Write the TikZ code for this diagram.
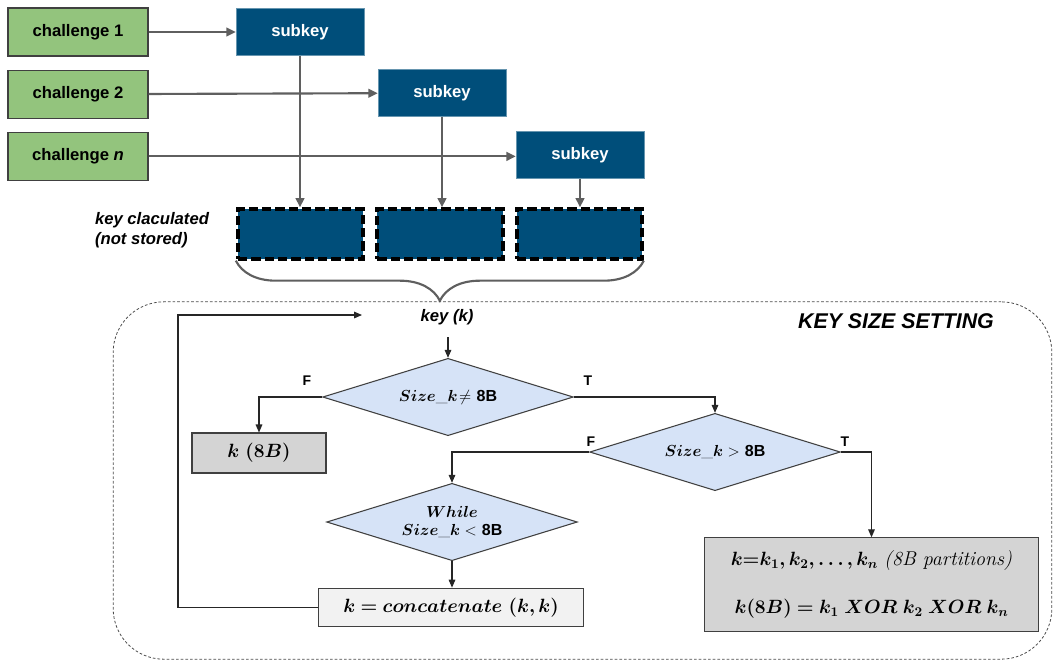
\documentclass[tikz,border=0pt]{standalone}
\usepackage{amsmath}
\usepackage{bm}
\usepackage{fontspec}
\setsansfont{Liberation Sans}
\usetikzlibrary{arrows.meta}
\usetikzlibrary{positioning}
\usetikzlibrary{shapes}
\usetikzlibrary{decorations.pathreplacing}
\definecolor{chalgreen}{RGB}{147,196,125}
\definecolor{subblue}{RGB}{0,78,122}
\definecolor{linegray}{RGB}{95,95,95}
\definecolor{decblue}{RGB}{214,227,247}
\definecolor{boxgray}{RGB}{212,212,212}
\definecolor{boxlight}{RGB}{242,242,242}
\newcommand{\sfbold}{\sffamily\bfseries}
\newcommand{\eightB}{\textsf{\textbf{8B}}}

\begin{document}
\begin{tikzpicture}[x=0.75pt, y=-0.75pt, node distance = 9.75pt and 7.5pt,
  challenge/.style={
    % The shape:
    rectangle,
    minimum width=105pt, minimum height=36pt,
    % The border:
    line width=0.9pt, draw=black!75,
    % The filling:
    fill=chalgreen,
    font=\fontsize{12.5}{14}\selectfont\sfbold},
  subkey/.style={
    rectangle,
    minimum width=96pt, minimum height=35pt,
    draw=subblue!60!white, fill=subblue,
    text=white, font=\fontsize{12.5}{14}\selectfont\sfbold},
  keypart/.style={
    rectangle,
    minimum width=94pt, minimum height=37pt,
    % thick dashed border
    line width=3pt, draw=black, dash pattern=on 7pt off 3pt,
    fill=subblue},
  decision/.style={
    % The shape:
    diamond, aspect=3, inner sep=0pt,
    minimum width=188pt, minimum height=58pt,
    % The border:
    line width=0.8pt, draw=black!75,
    % The filling:
    fill=decblue,
    font=\fontsize{12}{14}\selectfont,
    align = center},
  process/.style={
    rectangle,
    line width=0.8pt, draw=black!75,
    fill=boxgray, align=center},
  container/.style={
    rectangle, rounded corners=38pt,
    draw=black!70, line width=0.6pt, dash pattern=on 2pt off 1.5pt},
  tflabel/.style={font=\fontsize{10.5}{12}\selectfont\sfbold},
  feed/.style={-{Triangle[length=7pt,width=6.5pt]}, linegray, line width=1.6pt},
  flow/.style={-{Triangle[length=6pt,width=5pt]}, black!85, line width=0.8pt},
  text=black]

  \useasboundingbox (0,0) rectangle (1056,662);

  % challenges and subkeys
  \node (ch1) [challenge] at (78,32) {challenge 1};
  \node (ch2) [challenge, below = of ch1] {challenge 2};
  \node (chn) [challenge, below = of ch2] {challenge \textit{n}};

  \node (sk1) [subkey] at (300,32) {subkey};
  \node (sk2) [subkey] at (442,93) {subkey};
  \node (sk3) [subkey] at (580,155) {subkey};

  \draw[feed] (ch1) -- (sk1);
  \draw[feed] (ch2) -- (sk2);
  \draw[feed] (chn.east) -- (chn.east -| sk3.west);

  % calculated key
  \node (kp1) [keypart] at (300.5,234) {};
  \node (kp2) [keypart, right = of kp1] {};
  \node (kp3) [keypart, right = of kp2] {};
  \node (kcalc) [align=left, font=\fontsize{12.5}{15}\selectfont\sffamily\bfseries\itshape] at (152,230) {key claculated\\(not stored)};

  \draw[feed] (sk1.south) -- (sk1.south |- kp1.north);
  \draw[feed] (sk2.south) -- (sk2.south |- kp2.north);
  \draw[feed] (sk3.south) -- (sk3.south |- kp3.north);

  \draw[linegray, line width=1.6pt, decorate, decoration={brace, mirror, amplitude=30pt}]
    (kp1.south west) -- (kp3.south east);

  % key size setting
  \node (ksset) [container, minimum width=704pt, minimum height=268pt] at (582.5,480.5) {};
  \node (kstitle) [font=\fontsize{16}{18}\selectfont\sffamily\bfseries\itshape] at (896,321) {KEY SIZE SETTING};
  \node (keyk) [font=\fontsize{12.5}{14}\selectfont\sffamily\bfseries\itshape] at (447,317) {key (k)};

  \node (d1) [decision] at (448,397) {$\bm{Size\_k}\!\neq$ \eightB};
  \node (d2) [decision] at (715,452) {$\bm{Size\_k} >$ \eightB};
  \node (d3) [decision] at (452,522) {$\bm{While}$\\[-1pt]$\bm{Size\_k} <$ \eightB};

  \node (k8) [process, minimum width=100.5pt, minimum height=30pt, font=\fontsize{15}{17}\selectfont] at (259,453) {$\bm{k\ (8B)}$};
  \node (concat) [process, fill=boxlight, minimum width=199pt, minimum height=29pt, font=\fontsize{15.5}{17}\selectfont] at (451,607.5) {$\bm{k = concatenate\ (k, k)}$};
  \node (parts) [process, minimum width=250pt, minimum height=70pt, font=\fontsize{14}{16}\selectfont] at (871.5,584.5)
    {$\bm{k{=}k_1, k_2, \ldots, k_n}$ {\fontsize{15}{16}\selectfont\textit{(8B partitions)}}\\[20pt]$\bm{k(8B) = k_1\;XOR\;k_2\;XOR\;k_n}$};

  \node (f1) [tflabel] at (307,381) {F};
  \node (t1) [tflabel] at (588,381) {T};
  \node (f2) [tflabel] at (591,442) {F};
  \node (t2) [tflabel] at (845,442) {T};

  \coordinate (kin) at (448,337);
  \coordinate (loopturn) at (178,315);
  \coordinate (loopend) at (362,315);

  \draw[flow] (kin) -- (d1);
  \draw[flow] (d1.west) -| (k8.north);
  \draw[flow] (d1.east) -| (d2.north);
  \draw[flow] (d2.west) -| (d3.north);
  \draw[flow] (d3.south) -- (d3.south |- concat.north);
  \draw[flow] (d2.east) -| (parts.north);
  \draw[flow] (concat.west) -| (loopturn) -- (loopend);
\end{tikzpicture}
\end{document}
